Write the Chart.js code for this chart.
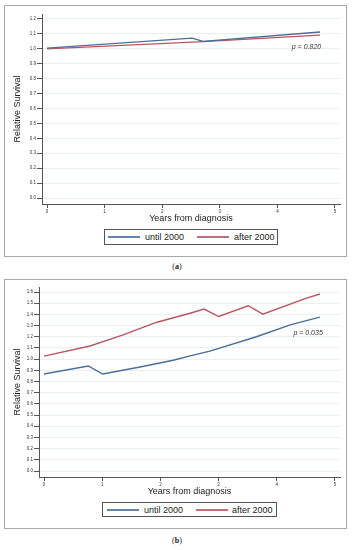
<!DOCTYPE html>
<html lang="en">

<head>
    <meta charset="UTF-8">
    <meta name="viewport" content="width=device-width, initial-scale=1.0">
    <script src="https://cdn.jsdelivr.net/npm/chart.js"></script>
    <title>Relative Survival</title>
    <style>
        body {
            margin: 0;
            width: 354px;
            height: 550px;
            position: relative;
            overflow: hidden;
            background: #fff;
            font-family: "Liberation Sans", Arial, sans-serif;
        }

        .painel {
            position: absolute;
            left: 4px;
            width: 343px;
            box-sizing: border-box;
            border: 1.5px solid #a8a8a8;
        }

        canvas {
            position: absolute;
            left: 4px;
        }

        .legenda {
            position: absolute;
            height: 16px;
            box-sizing: border-box;
            border: 1px solid #555;
            background: #fff;
            font-size: 9px;
            color: #222;
        }

        .legenda span {
            position: absolute;
        }

        .linha {
            top: 6px;
            width: 32px;
            height: 2px;
            opacity: 0.85;
        }

        .texto {
            top: 50%;
            transform: translateY(-50%);
            white-space: nowrap;
        }

        .rotulo {
            position: absolute;
            width: 354px;
            text-align: center;
            font-family: "Liberation Serif", serif;
            font-size: 8px;
            color: #222;
        }
    </style>
</head>

<body>
    <!-- painel (a) -->
    <div class="painel" style="top:5px; height:252px"></div>
    <canvas id="graficoA" width="343" height="224" style="top:5px"></canvas>
    <div class="legenda" style="left:104px; top:229px; width:174px">
        <span class="linha" style="left:3px; background:#4a6e98"></span>
        <span class="texto" style="left:40px">until 2000</span>
        <span class="linha" style="left:92px; background:#b9565f"></span>
        <span class="texto" style="left:129px">after 2000</span>
    </div>
    <div class="rotulo" style="top:262px">(<b>a</b>)</div>

    <!-- painel (b) -->
    <div class="painel" style="top:279px; height:250px"></div>
    <canvas id="graficoB" width="343" height="224" style="top:279px"></canvas>
    <div class="legenda" style="left:102px; top:502px; width:175px; height:15px">
        <span class="linha" style="left:4px; background:#4a6e98"></span>
        <span class="texto" style="left:41px">until 2000</span>
        <span class="linha" style="left:93px; background:#b9565f"></span>
        <span class="texto" style="left:129px">after 2000</span>
    </div>
    <div class="rotulo" style="top:536px">(<b>b</b>)</div>
</body>

</html>

<script>
    // dados (anos desde o diagnostico, sobrevida relativa)
    const anosA_ate2000 = [0, 2.52, 2.71, 4.74];
    const sobrevidaA_ate2000 = [1.005, 1.072, 1.05, 1.113];
    const anosA_apos2000 = [0, 2.71, 4.74];
    const sobrevidaA_apos2000 = [1.0, 1.048, 1.092];

    const anosB_ate2000 = [0, 0.76, 1.01, 1.65, 2.22, 2.51, 2.85, 3.65, 4.23, 4.74];
    const sobrevidaB_ate2000 = [0.867, 0.939, 0.867, 0.93, 0.99, 1.029, 1.072, 1.2, 1.306, 1.375];
    const anosB_apos2000 = [0, 0.79, 1.36, 1.94, 2.51, 2.75, 3.0, 3.51, 3.76, 4.51, 4.74];
    const sobrevidaB_apos2000 = [1.027, 1.117, 1.216, 1.33, 1.41, 1.447, 1.381, 1.477, 1.402, 1.546, 1.582];

    // rotulos dos eixos
    const ticksX = [0, 1, 2, 3, 4, 5];
    const ticksYA = [0, 0.1, 0.2, 0.3, 0.4, 0.5, 0.6, 0.7, 0.8, 0.9, 1.0, 1.1, 1.2];
    const ticksYB = [0, 0.1, 0.2, 0.3, 0.4, 0.5, 0.6, 0.7, 0.8, 0.9, 1.0, 1.1, 1.2, 1.3, 1.4, 1.5, 1.6];

    const textoP_A = 'p = 0.820';
    const textoP_B = 'p = 0.035';

    const AZUL = '#4a6e98';
    const VERMELHO = '#b9565f';
    const FONTE = '"Liberation Sans", Arial, sans-serif';

    function pontos(anos, valores) {
        var lista = [];
        for (var i = 0; i < anos.length; i++) {
            lista.push({ x: anos[i], y: valores[i] });
        }
        return lista;
    }

    // escreve o valor de p (texto em italico) dentro da area do grafico
    const pluginP = {
        id: 'textoP',
        afterDatasetsDraw(chart, args, opts) {
            const ctx = chart.ctx;
            ctx.save();
            ctx.font = 'italic 7px ' + FONTE;
            ctx.fillStyle = '#333';
            ctx.textAlign = 'right';
            ctx.textBaseline = 'middle';
            ctx.fillText(opts.texto, chart.scales.x.getPixelForValue(opts.x), chart.scales.y.getPixelForValue(opts.y));
            ctx.restore();
        }
    };

    function plotarGrafico(id, cfg) {
        return new Chart(document.getElementById(id), {
            type: 'line',
            data: {
                datasets: [{
                    label: 'until 2000',
                    data: cfg.ate2000,
                    borderColor: AZUL,
                    borderWidth: 1.4,
                    pointRadius: 0,
                    tension: 0
                }, {
                    label: 'after 2000',
                    data: cfg.apos2000,
                    borderColor: VERMELHO,
                    borderWidth: 1.4,
                    pointRadius: 0,
                    tension: 0
                }]
            },
            options: {
                responsive: false,
                animation: false,
                layout: { padding: { left: 0, right: 7, top: cfg.topo, bottom: 0 } },
                plugins: {
                    legend: { display: false },
                    tooltip: { enabled: false },
                    textoP: { texto: cfg.textoP, x: cfg.posP[0], y: cfg.posP[1] }
                },
                scales: {
                    x: {
                        type: 'linear',
                        min: cfg.xMin,
                        max: cfg.xMax,
                        afterBuildTicks: function (eixo) {
                            eixo.ticks = ticksX.map(v => ({ value: v }));
                        },
                        afterFit: function (eixo) { eixo.height = cfg.alturaX; },
                        ticks: {
                            autoSkip: false,
                            maxRotation: 0,
                            padding: 1,
                            color: '#333',
                            font: { family: FONTE, size: 4.5 }
                        },
                        grid: { drawOnChartArea: false, tickLength: 4, tickColor: '#555', tickWidth: 1 },
                        border: { color: '#555', width: 1 },
                        title: {
                            display: true,
                            text: 'Years from diagnosis',
                            color: '#222',
                            font: { family: FONTE, size: 9 },
                            padding: { top: 0, bottom: cfg.padTituloX }
                        }
                    },
                    y: {
                        min: cfg.yMin,
                        max: cfg.yMax,
                        afterBuildTicks: function (eixo) {
                            eixo.ticks = cfg.ticksY.map(v => ({ value: v }));
                        },
                        afterFit: function (eixo) { eixo.width = cfg.larguraY; },
                        ticks: {
                            autoSkip: false,
                            padding: 1,
                            color: '#333',
                            font: { family: FONTE, size: 4.5 },
                            callback: v => v.toFixed(1)
                        },
                        grid: { color: '#e8f0f0', lineWidth: 1, tickLength: 5, tickColor: '#555' },
                        border: { color: '#555', width: 1 },
                        title: {
                            display: true,
                            text: 'Relative Survival',
                            color: '#222',
                            font: { family: FONTE, size: 9 },
                            padding: { top: cfg.padTituloY, bottom: 0 }
                        }
                    }
                }
            },
            plugins: [pluginP]
        });
    }

    Chart.defaults.font.family = FONTE;

    plotarGrafico('graficoA', {
        ate2000: pontos(anosA_ate2000, sobrevidaA_ate2000),
        apos2000: pontos(anosA_apos2000, sobrevidaA_apos2000),
        ticksY: ticksYA,
        textoP: textoP_A,
        posP: [4.76, 1.014],
        xMin: -0.087, xMax: 5.087,
        yMin: -0.0402, yMax: 1.2335,
        topo: 9, larguraY: 38, alturaX: 25,
        padTituloX: 4.6, padTituloY: 8.6
    });

    plotarGrafico('graficoB', {
        ate2000: pontos(anosB_ate2000, sobrevidaB_ate2000),
        apos2000: pontos(anosB_apos2000, sobrevidaB_apos2000),
        ticksY: ticksYB,
        textoP: textoP_B,
        posP: [4.79, 1.234],
        xMin: -0.086, xMax: 5.086,
        yMin: -0.0536, yMax: 1.6447,
        topo: 8, larguraY: 35, alturaX: 26,
        padTituloX: 5.6, padTituloY: 8.1
    });
</script>
